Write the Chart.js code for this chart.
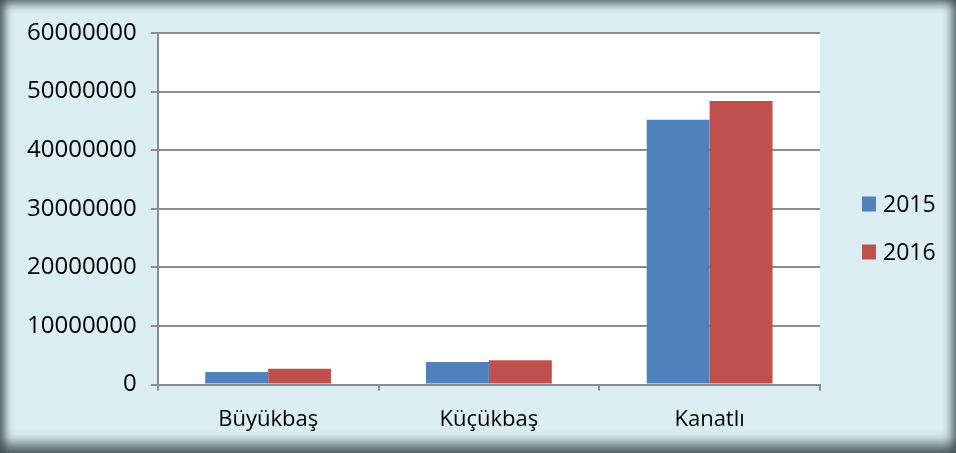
<!DOCTYPE html>
<html>
<head>
<meta charset="utf-8">
<script src="https://cdn.jsdelivr.net/npm/chart.js@4/dist/chart.umd.min.js"></script>
<style>
  html, body { margin: 0; padding: 0; }
  #wrap {
    position: relative; width: 956px; height: 453px;
    background: #DAEEF3;
    box-shadow: inset 9px 0 9px -4px rgba(60,75,80,0.8), inset -9px 0 9px -4px rgba(60,75,80,0.65),
                inset 0 9px 9px -4px rgba(60,75,80,0.65), inset 0 -14px 12px -4px rgba(60,75,80,0.8);
  }
  canvas { position: absolute; left: 0; top: 0; }
</style>
</head>
<body>
<div id="wrap"><canvas id="c" width="956" height="453"></canvas></div>
<script>
const categories = ["Büyükbaş", "Küçükbaş", "Kanatlı"];
const seriesNames = ["2015", "2016"];
const values2015 = [2150000, 3850000, 45200000];
const values2016 = [2700000, 4150000, 48400000];
const seriesColors = ["#4F81BD", "#C0504D"];
const yTicks = [0, 10000000, 20000000, 30000000, 40000000, 50000000, 60000000];

const FONT = "'Open Sans', 'Liberation Sans', sans-serif";

const plotBg = {
  id: 'plotBg',
  beforeDraw(chart) {
    const {ctx, chartArea: a} = chart;
    ctx.save();
    ctx.fillStyle = '#FFFFFF';
    ctx.fillRect(a.left, a.top, a.right - a.left, a.bottom - a.top);
    ctx.restore();
  }
};

const sideLegend = {
  id: 'sideLegend',
  afterDraw(chart) {
    const ctx = chart.ctx;
    const rows = [204, 252];
    ctx.save();
    ctx.font = "23px " + FONT;
    ctx.textBaseline = 'middle';
    ctx.textAlign = 'left';
    chart.data.datasets.forEach((ds, i) => {
      const y = rows[i];
      ctx.fillStyle = ds.backgroundColor;
      ctx.fillRect(862, y - 7.5, 14, 15);
      ctx.fillStyle = '#000';
      ctx.fillText(ds.label, 883, y + 1);
    });
    ctx.restore();
  }
};

new Chart(document.getElementById('c'), {
  type: 'bar',
  data: {
    labels: categories,
    datasets: [
      { label: seriesNames[0], data: values2015, backgroundColor: seriesColors[0] },
      { label: seriesNames[1], data: values2016, backgroundColor: seriesColors[1] }
    ]
  },
  options: {
    responsive: false,
    animation: false,
    devicePixelRatio: 1,
    layout: { padding: { left: 13, top: 33, right: 136, bottom: 4 } },
    datasets: { bar: { categoryPercentage: 0.57, barPercentage: 1.0 } },
    plugins: { legend: { display: false }, tooltip: { enabled: false } },
    scales: {
      x: {
        grid: { display: true, drawOnChartArea: false, drawTicks: true, offset: true, tickLength: 6, color: '#8C8C8C', lineWidth: 2 },
        border: { display: true, color: '#8C8C8C', width: 2 },
        ticks: { color: '#000', padding: 16, font: { family: FONT, size: 22 } }
      },
      y: {
        min: 0, max: 60000000,
        afterBuildTicks(axis) { axis.ticks = yTicks.map(v => ({ value: v })); },
        grid: { color: '#8C8C8C', lineWidth: 2, tickLength: 7 },
        border: { display: true, color: '#8C8C8C', width: 2 },
        ticks: { color: '#000', padding: 14, font: { family: FONT, size: 24 }, callback: v => String(v) }
      }
    }
  },
  plugins: [plotBg, sideLegend]
});
</script>
</body>
</html>
